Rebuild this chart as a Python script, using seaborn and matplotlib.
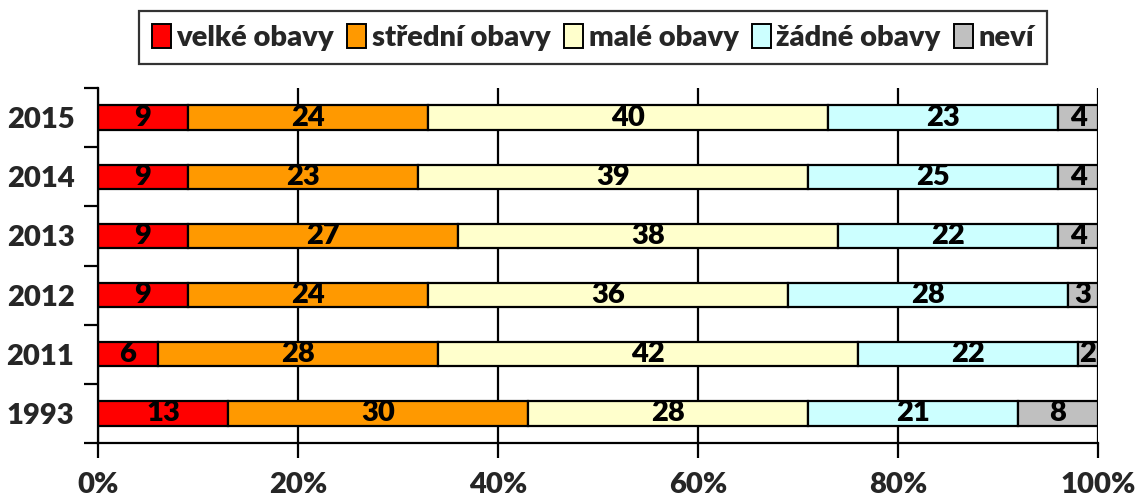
import matplotlib
matplotlib.use("Agg")
import matplotlib.pyplot as plt
import seaborn as sns
import numpy as np
import pandas as pd
from matplotlib.patches import Patch
from matplotlib.ticker import FixedLocator, FuncFormatter

years = ["2015", "2014", "2013", "2012", "2011", "1993"]
series_names = ["velké obavy", "střední obavy", "malé obavy", "žádné obavy", "neví"]
velke = [9, 9, 9, 9, 6, 13]
stredni = [24, 23, 27, 24, 28, 30]
male = [40, 39, 38, 36, 42, 28]
zadne = [23, 25, 22, 28, 22, 21]
nevi = [4, 4, 4, 3, 2, 8]
colors = ["#FF0000", "#FF9900", "#FFFFCC", "#CCFFFF", "#C0C0C0"]
xticks = [0, 20, 40, 60, 80, 100]

sns.set_theme(style="white")
plt.rcParams["font.family"] = ["Lato", "DejaVu Sans"]
W = "heavy"
plt.rcParams["font.weight"] = W

fig = plt.figure(figsize=(11.36, 5.01), dpi=100)
ax = fig.add_axes([98 / 1136, 1 - 443 / 501, 1000 / 1136, 355 / 501])

all_series = [velke, stredni, male, zadne, nevi]
left = np.zeros(len(years))
for name, vals, col in zip(series_names, all_series, colors):
    df = pd.DataFrame({"year": years, "value": vals})
    sns.barplot(data=df, x="value", y="year", orient="h", color=col,
                saturation=1, width=0.41, left=left, edgecolor="black",
                linewidth=1.6, ax=ax, errorbar=None)
    for i, v in enumerate(vals):
        ax.text(left[i] + v / 2, i, str(v), ha="center", va="center",
                fontsize=21, fontweight=W, color="black")
    left = left + np.array(vals)

ax.set_xlim(0, 100)
ax.set_ylim(len(years) - 0.5, -0.5)
ax.set_xlabel("")
ax.set_ylabel("")
ax.xaxis.set_major_locator(FixedLocator(xticks))
ax.xaxis.set_major_formatter(FuncFormatter(lambda x, p: f"{int(x)}%"))
ax.set_axisbelow(True)
ax.grid(axis="x", color="black", linewidth=1.6)
ax.grid(axis="y", visible=False)

ax.yaxis.set_minor_locator(FixedLocator(np.arange(-0.5, len(years), 1.0)))
ax.tick_params(axis="y", which="major", length=0, pad=17, labelsize=21)
ax.tick_params(axis="y", which="minor", length=10, width=1.6, color="black", direction="out", left=True)
ax.tick_params(axis="x", which="major", length=11, width=1.6, color="black", direction="out",
               bottom=True, pad=10, labelsize=21)
for lab in ax.get_xticklabels() + ax.get_yticklabels():
    lab.set_fontweight(W)

for s in ["top", "right"]:
    ax.spines[s].set_visible(False)
for s in ["left", "bottom"]:
    ax.spines[s].set_color("black")
    ax.spines[s].set_linewidth(1.6)

handles = [Patch(facecolor=c, edgecolor="black", linewidth=1.4, label=n)
           for n, c in zip(series_names, colors)]
leg = fig.legend(handles=handles, loc="center", bbox_to_anchor=(0.522, 0.925), ncol=5,
                 frameon=True, fancybox=False, edgecolor="black", fontsize=21,
                 handlelength=0.65, handleheight=0.9, handletextpad=0.2, columnspacing=0.45,
                 borderpad=0.45, borderaxespad=0.3)
leg.get_frame().set_linewidth(1.6)
for t in leg.get_texts():
    t.set_fontweight(W)

fig.savefig("out.png", dpi=100)
